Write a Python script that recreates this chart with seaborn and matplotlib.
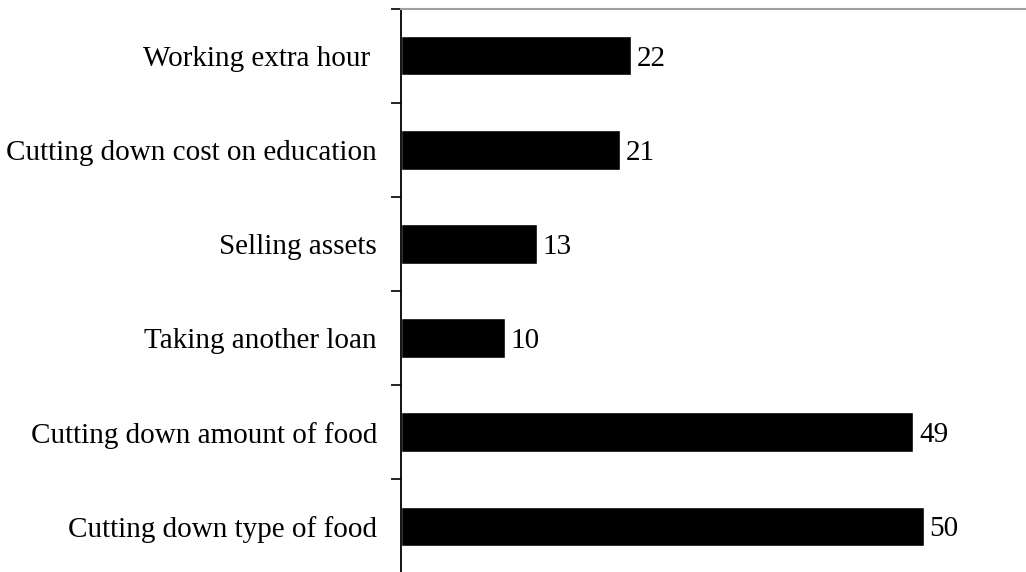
import matplotlib
matplotlib.use("Agg")
import matplotlib.pyplot as plt
import seaborn as sns
import pandas as pd
import numpy as np

categories = ["Working extra hour ", "Cutting down cost on education", "Selling assets",
              "Taking another loan", "Cutting down amount of food", "Cutting down type of food"]
values = [22, 21, 13, 10, 49, 50]

sns.set_theme(style="white")
plt.rcParams['font.family'] = ['Liberation Serif', 'DejaVu Serif']

df = pd.DataFrame({"cat": categories, "val": values})

fig = plt.figure(figsize=(10.26, 5.72), dpi=100)
ax = fig.add_axes([400.5/1026, -1.5/572, 628/1026, 565/572])
sns.barplot(data=df, y="cat", x="val", orient="h", color="black", width=0.42,
            saturation=1, ax=ax)
ax.set_xlim(0, 60)
ax.set_ylim(len(categories) - 0.5, -0.5)
ax.set_xlabel("")
ax.set_ylabel("")
ax.set_xticks([])
ax.set_yticks(np.arange(len(categories)))
ax.set_yticklabels(categories, fontsize=21, color="black")
ax.set_yticks(np.arange(len(categories) + 1) - 0.5, minor=True)
ax.tick_params(axis="y", which="major", length=0, pad=17)
ax.tick_params(axis="y", which="minor", left=True, length=7, width=1.2, color="black", direction="out")
for s in ["right", "bottom"]:
    ax.spines[s].set_visible(False)
ax.spines["left"].set_color("black")
ax.spines["left"].set_linewidth(1.3)
ax.spines["top"].set_color("#a0a0a0")
ax.spines["top"].set_linewidth(1.5)

for c in ax.containers:
    texts = ax.bar_label(c, labels=[str(v) for v in values], padding=4, fontsize=21, color="black")
    for t in texts:
        t.set_va("center_baseline")

fig.savefig("out.png", dpi=100)
